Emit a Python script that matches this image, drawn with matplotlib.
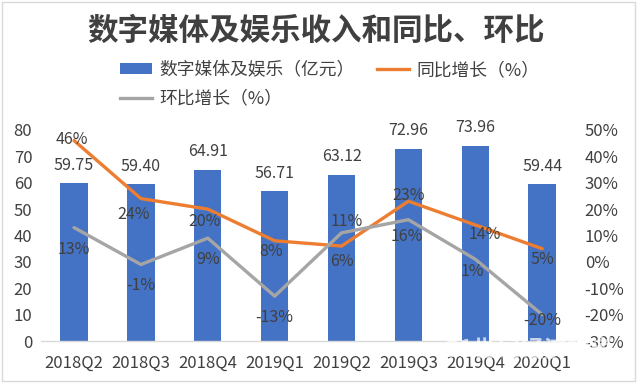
import matplotlib
matplotlib.use("Agg")
import matplotlib.pyplot as plt
from matplotlib.patches import Rectangle
from matplotlib.lines import Line2D
from matplotlib.ticker import FuncFormatter

plt.rcParams['font.family'] = ['Noto Sans CJK SC', 'DejaVu Sans']

categories = ["2018Q2", "2018Q3", "2018Q4", "2019Q1", "2019Q2", "2019Q3", "2019Q4", "2020Q1"]
revenue = [59.75, 59.40, 64.91, 56.71, 63.12, 72.96, 73.96, 59.44]
yoy = [46, 24, 20, 8, 6, 23, 14, 5]
qoq = [13, -1, 9, -13, 11, 16, 1, -20]

title = "数字媒体及娱乐收入和同比、环比"
label_rev = "数字媒体及娱乐（亿元）"
label_yoy = "同比增长（%）"
label_qoq = "环比增长（%）"

BLUE = "#4472C4"
ORANGE = "#ED7D31"
GRAY = "#A5A5A5"
TXT = "#404040"

W, H = 640, 387
fig = plt.figure(figsize=(W / 100, H / 100), dpi=100)
fig.patch.set_facecolor("white")

# chart border
fig.add_artist(Rectangle((2 / W, 1 - 381 / H), (635 - 2) / W, (381 - 2) / H,
                         transform=fig.transFigure, fill=False, edgecolor="#d9d9d9", lw=1))

ax = fig.add_axes([40.6 / W, 1 - 341 / H, (575.6 - 40.6) / W, (341 - 130) / H])
ax2 = ax.twinx()

x = list(range(len(categories)))
ax.bar(x, revenue, width=0.41, color=BLUE, zorder=2)
ax.set_ylim(0, 80)
ax.set_xlim(-0.5, len(categories) - 0.5)
ax.set_yticks(range(0, 81, 10))
ax.set_xticks(x)
ax.set_xticklabels(categories)

ax2.plot(x, yoy, color=ORANGE, lw=2.4, solid_capstyle="round", solid_joinstyle="round", zorder=3)
ax2.plot(x, qoq, color=GRAY, lw=2.4, solid_capstyle="round", solid_joinstyle="round", zorder=3)
ax2.set_ylim(-30, 50)
ax2.set_yticks(range(-30, 51, 10))
ax2.yaxis.set_major_formatter(FuncFormatter(lambda v, p: f"{int(v)}%"))

for a in (ax, ax2):
    for s in a.spines.values():
        s.set_visible(False)
ax.spines["bottom"].set_visible(True)
ax.spines["bottom"].set_color("#d9d9d9")
ax.spines["bottom"].set_linewidth(1)

ax.tick_params(axis="y", length=0, pad=6, labelsize=12, labelcolor=TXT)
ax.tick_params(axis="x", length=0, pad=10, labelsize=12, labelcolor=TXT)
ax2.tick_params(axis="y", length=0, pad=6.5, labelsize=12, labelcolor=TXT)

# bar labels
for xi, v in zip(x, revenue):
    ax.annotate(f"{v:.2f}", (xi, v), xytext=(0, 13), textcoords="offset points",
                ha="center", va="center", fontsize=11.5, color=TXT, zorder=5)

# line label offsets in pixels (dx, dy down-positive)
yoy_off = [(-2, -1), (-7, 16), (-3, 12), (-4, 11), (0, 15), (0, -6), (10, 10), (0, 11)]
qoq_off = [(0, 22), (0, 21), (0, 21), (0, 21), (5, -11), (-2, 17), (-3, 12), (0, 6)]
px2pt = 72 / 100
for xi, v, (dx, dy) in zip(x, yoy, yoy_off):
    ax2.annotate(f"{v}%", (xi, v), xytext=(dx * px2pt, -dy * px2pt), textcoords="offset points",
                 ha="center", va="center", fontsize=11.5, color=TXT, zorder=5)
for xi, v, (dx, dy) in zip(x, qoq, qoq_off):
    ax2.annotate(f"{v}%", (xi, v), xytext=(dx * px2pt, -dy * px2pt), textcoords="offset points",
                 ha="center", va="center", fontsize=11.5, color=TXT, zorder=5)

# title
fig.text(316 / W, 1 - 31 / H, title, ha="center", va="center", fontsize=22,
         fontweight="bold", color=TXT)

# legend
h_rev = Rectangle((0, 0), 1, 1, facecolor=BLUE, edgecolor="none")
h_yoy = Line2D([0], [0], color=ORANGE, lw=2.4)
h_qoq = Line2D([0], [0], color=GRAY, lw=2.4)
leg = fig.legend([h_rev, h_qoq, h_yoy], [label_rev, label_qoq, label_yoy],
                 ncol=2, loc="upper left", bbox_to_anchor=(120 / W, 1 - 61 / H),
                 frameon=False, fontsize=12.8, handlelength=1.8, handleheight=0.6,
                 handletextpad=0.4, columnspacing=1.3, labelspacing=0.6, borderpad=0,
                 borderaxespad=0)
for t in leg.get_texts():
    t.set_color(TXT)

# watermark
fig.text(530 / W, 1 - 350 / H, "21世纪经济报道", ha="center", va="center", fontsize=17,
         fontweight="bold", color="white", alpha=0.7, zorder=10)

fig.savefig("out.png", dpi=100)
